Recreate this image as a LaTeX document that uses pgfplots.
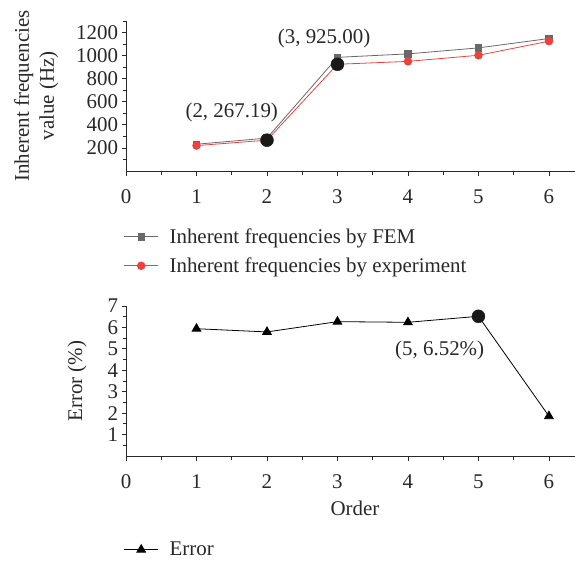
\documentclass[border=0pt]{standalone}
\usepackage{fontspec}
\setmainfont{Liberation Serif}
\usepackage{pgfplots}
\pgfplotsset{compat=1.18}
\definecolor{femgray}{RGB}{105,105,105}
\definecolor{expred}{RGB}{238,64,64}
\definecolor{axc}{RGB}{40,40,40}
\begin{document}
\begin{tikzpicture}[x=1bp,y=1bp]
\path[use as bounding box] (0,0) rectangle (575,-561);
\pgfplotsset{
  myax/.style={
    scale only axis,
    width=449bp, height=150bp,
    xmin=0, xmax=6.37,
    axis x line=bottom, axis y line=left,
    axis line style={-, axc, line width=0.8pt},
    tick align=outside, tick pos=left,
    major tick length=4.5bp, minor tick length=3.5bp,
    every tick/.style={axc, line width=0.8pt},
    xtick={0,1,2,3,4,5,6},
    minor xtick={0.5,1.5,2.5,3.5,4.5,5.5},
    /pgf/number format/assume math mode=true,
    /pgf/number format/1000 sep={},
    ticklabel style={font=\fontsize{21}{25}\selectfont, text=axc},
    xticklabel style={yshift=-11bp},
    label style={font=\fontsize{21}{25}\selectfont, text=axc},
    legend style={draw=none, fill=none, font=\fontsize{21}{25}\selectfont, text=axc,
      cells={anchor=west}, nodes={minimum height=29bp, inner ysep=0bp},
      /tikz/every odd column/.append style={column sep=9bp}},
    legend image code/.code={\draw[mark repeat=2,mark phase=2,##1] plot coordinates {(0bp,0bp)(17bp,0bp)(34bp,0bp)};},
    legend cell align=left,
    clip=false,
  }
}
\begin{axis}[myax,
  at={(126bp,-171bp)}, anchor=south west,
  ymin=0, ymax=1300,
  ytick={200,400,600,800,1000,1200},
  minor ytick={100,300,500,700,900,1100,1300},
  ylabel={Inherent frequencies\\value (Hz)},
  ylabel style={align=center, at={(axis description cs:-0.2,0.5)}, anchor=center},
  legend style={at={(axis description cs:-0.012,-0.327)}, anchor=north west},
]
\addplot[color=femgray, line width=0.8pt, mark=square*, mark size=3.3bp, mark options={fill=femgray}]
  coordinates {(1,232)(2,285)(3,985)(4,1015)(5,1067)(6,1148)};
\addlegendentry{Inherent frequencies by FEM}
\addplot[color=expred, line width=0.8pt, mark=*, mark size=3.8bp, mark options={fill=expred}]
  coordinates {(1,220)(2,267.19)(3,925)(4,950)(5,1003)(6,1125)};
\addlegendentry{Inherent frequencies by experiment}
\addplot[only marks, mark=*, mark size=6.5bp, color=black!90, forget plot]
  coordinates {(2,267.19)(3,925)};
\node[font=\fontsize{21}{25}\selectfont, text=axc] at (axis cs:1.5,504) {(2, 267.19)};
\node[font=\fontsize{21}{25}\selectfont, text=axc] at (axis cs:2.81,1150) {(3, 925.00)};
\end{axis}
\begin{axis}[myax,
  at={(126bp,-456bp)}, anchor=south west,
  ymin=0, ymax=7,
  ytick={1,2,3,4,5,6,7},
  minor ytick={0.5,1.5,2.5,3.5,4.5,5.5,6.5},
  ylabel={Error (\%)},
  ylabel style={at={(axis description cs:-0.109,0.5)}, anchor=center},
  xlabel={Order},
  xlabel style={at={(axis description cs:0.51,-0.347)}, anchor=center},
  legend style={at={(axis description cs:-0.012,-0.513)}, anchor=north west},
]
\addplot[color=black, line width=0.8pt, mark=triangle*, mark size=5bp, mark options={fill=black}]
  coordinates {(1,5.94)(2,5.79)(3,6.27)(4,6.24)(5,6.52)(6,1.86)};
\addlegendentry{Error}
\addplot[only marks, mark=*, mark size=6.5bp, color=black!90, forget plot]
  coordinates {(5,6.52)};
\node[font=\fontsize{21}{25}\selectfont, text=axc] at (axis cs:4.45,4.92) {(5, 6.52\%)};
\end{axis}
\end{tikzpicture}
\end{document}
